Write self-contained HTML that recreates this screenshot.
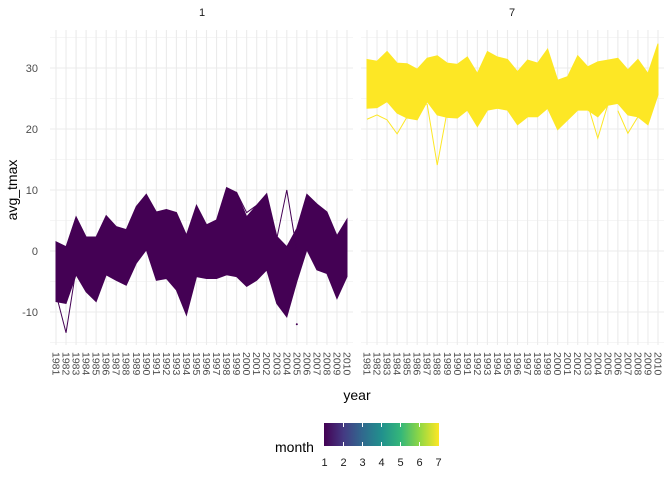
<!DOCTYPE html>
<html><head><meta charset="utf-8"><style>
body{margin:0;background:#fff;font-family:"Liberation Sans",sans-serif;}
svg text{font-family:"Liberation Sans",sans-serif;}
</style></head><body>
<svg id="chart" width="672" height="480" xmlns="http://www.w3.org/2000/svg">
<defs><linearGradient id="vir" x1="0" x2="1" y1="0" y2="0">
<stop offset="0" stop-color="#440154"/><stop offset="0.17" stop-color="#443a83"/><stop offset="0.33" stop-color="#31688e"/><stop offset="0.5" stop-color="#21908d"/><stop offset="0.67" stop-color="#35b779"/><stop offset="0.83" stop-color="#8fd744"/><stop offset="1" stop-color="#fde725"/></linearGradient></defs>
<g id="grid"></g><g id="marks"></g><g id="axes"></g>
<text x="17" y="190" font-size="14" fill="#000" text-anchor="middle" transform="rotate(-90 17 190)">avg_tmax</text>
<text x="357" y="400" font-size="14" fill="#000" text-anchor="middle">year</text>
<text x="202" y="16" font-size="11" fill="#1a1a1a" text-anchor="middle">1</text>
<text x="512" y="16" font-size="11" fill="#1a1a1a" text-anchor="middle">7</text>
<g>
<text x="275" y="452" font-size="14" fill="#000">month</text>
<rect x="324" y="423" width="115" height="23" fill="url(#vir)"/>
<g id="legticks"></g>
</g>
</svg>
<script>
const years = [];
for (let y = 1981; y <= 2010; y++) years.push(y);
const janHi = [1.5,0.7,5.6,2.3,2.3,5.8,4.0,3.5,7.3,9.3,6.4,6.8,6.3,2.6,7.5,4.3,5.1,10.4,9.6,5.6,7.5,9.4,2.4,0.7,3.7,9.3,7.7,6.4,2.5,5.2];
const janLo = [-8.3,-8.6,-3.9,-6.7,-8.3,-3.9,-4.8,-5.6,-2.0,0.2,-4.8,-4.5,-6.4,-10.5,-4.2,-4.5,-4.5,-3.9,-4.2,-5.8,-4.8,-3.1,-8.6,-10.8,-5.0,0.2,-3.1,-3.7,-7.8,-4.2];
const julHi = [31.4,31.1,32.7,30.8,30.7,29.8,31.6,32.0,30.8,30.6,31.8,29.1,32.7,31.8,31.4,29.4,31.3,30.8,33.1,28.0,28.6,32.0,30.2,31.0,31.3,31.6,29.7,31.4,29.1,34.0];
const julLo = [23.4,23.5,24.5,22.6,21.8,21.5,24.5,22.3,21.9,21.8,23.1,20.4,23.1,23.4,23.1,20.7,22.0,22.0,23.4,19.9,21.5,23.1,23.1,22.0,23.9,24.2,22.3,22.0,20.7,25.6];
const janOut1Years = [1981,1982,1983]; const janOut1Vals = [-7,-13.4,-3];
const janOut2Years = [2003,2004,2005]; const janOut2Vals = [2,10,0];
const janOut3Years = [1998,1999,2000,2001]; const janOut3Vals = [8,9.6,6.3,7.5];
const janPointYears = [2005]; const janPointVals = [-12];
const julOut1Years = [1986,1987,1988,1989]; const julOut1Vals = [25,24,14.1,23];
const julOut2Years = [1981,1982,1983,1984,1985]; const julOut2Vals = [21.6,22.3,21.5,19.2,22];
const julOut3Years = [2003,2004,2005]; const julOut3Vals = [24,18.5,24];
const julOut4Years = [2006,2007,2008]; const julOut4Vals = [23,19.3,22];
const yTicks = [-10,0,10,20,30];
const yMinor = [-15,-5,5,15,25,35];

const NS='http://www.w3.org/2000/svg';
const panels=[{x0:50,x1:353},{x0:361,x1:664}];
const pTop=30,pBot=345;
function sx(p,yr){return panels[p].x0+6+(yr-1981)*((panels[p].x1-panels[p].x0-12)/29);}
function sy(v){return 251-v*6.1;}
function mk(tag,attrs,parent){const e=document.createElementNS(NS,tag);for(const k in attrs)e.setAttribute(k,attrs[k]);parent.appendChild(e);return e;}
const grid=document.getElementById('grid'),marks=document.getElementById('marks'),axes=document.getElementById('axes');
panels.forEach((pn,p)=>{
  yMinor.forEach(v=>{const l=mk('line',{x1:pn.x0,x2:pn.x1,y1:sy(v),y2:sy(v),stroke:'#ebebeb','stroke-width':0.6},grid);
    
    });
  yTicks.forEach(v=>{const l=mk('line',{x1:pn.x0,x2:pn.x1,y1:sy(v),y2:sy(v),stroke:'#ebebeb','stroke-width':1.1},grid);
    
    });
  years.forEach(yr=>{const l=mk('line',{x1:sx(p,yr),x2:sx(p,yr),y1:pTop,y2:pBot,stroke:'#ebebeb','stroke-width':1.1},grid);
    
    
    const t=mk('text',{x:0,y:0,'font-size':10.5,fill:'#4d4d4d',transform:`translate(${sx(p,yr)-3.5},352) rotate(90)`},axes);
    t.textContent=yr;
    
    });
});
yTicks.forEach(v=>{const t=mk('text',{x:38,y:sy(v)+4,'font-size':11,fill:'#4d4d4d','text-anchor':'end'},axes);
  t.textContent=v<0?'-'+Math.abs(v):v;
  
  });
function band(p,hi,lo,col,name){
  let d='';years.forEach((yr,i)=>{d+=(i?'L':'M')+sx(p,yr)+','+sy(hi[i]);});
  for(let i=years.length-1;i>=0;i--)d+='L'+sx(p,years[i])+','+sy(lo[i]);
  const e=mk('path',{d:d+'Z',fill:col,stroke:col,'stroke-width':1},marks);
  
  
}
function line(p,ys,vs,col,name){
  const pts=ys.map((yr,i)=>sx(p,yr)+','+sy(vs[i])).join(' ');
  const e=mk('polyline',{points:pts,fill:'none',stroke:col,'stroke-width':1},marks);
  
  
}
band(0,janHi,janLo,'#440154','jan-lines-band');
band(1,julHi,julLo,'#fde725','jul-lines-band');
line(0,janOut1Years,janOut1Vals,'#440154','jan-outlier-line');
line(0,janOut2Years,janOut2Vals,'#440154','jan-outlier-line');
line(0,janOut3Years,janOut3Vals,'#440154','jan-outlier-line');
janPointYears.forEach((yr,i)=>{const c=mk('circle',{cx:sx(0,yr),cy:sy(janPointVals[i]),r:1,fill:'#440154'},marks);
  
  });
line(1,julOut1Years,julOut1Vals,'#fde725','jul-outlier-line');
line(1,julOut2Years,julOut2Vals,'#fde725','jul-outlier-line');
line(1,julOut3Years,julOut3Vals,'#fde725','jul-outlier-line');
line(1,julOut4Years,julOut4Vals,'#fde725','jul-outlier-line');
const lt=document.getElementById('legticks');
for(let m=1;m<=7;m++){const x=324.5+(m-1)*19;
  if(m>1&&m<7){mk('line',{x1:x,x2:x,y1:423,y2:427,stroke:'#fff','stroke-width':1},lt);mk('line',{x1:x,x2:x,y1:442,y2:446,stroke:'#fff','stroke-width':1},lt);}
  const t=mk('text',{x:x,y:466,'font-size':11,fill:'#1a1a1a','text-anchor':'middle'},lt);
  t.textContent=m;
  
  }
</script>
</body></html>
